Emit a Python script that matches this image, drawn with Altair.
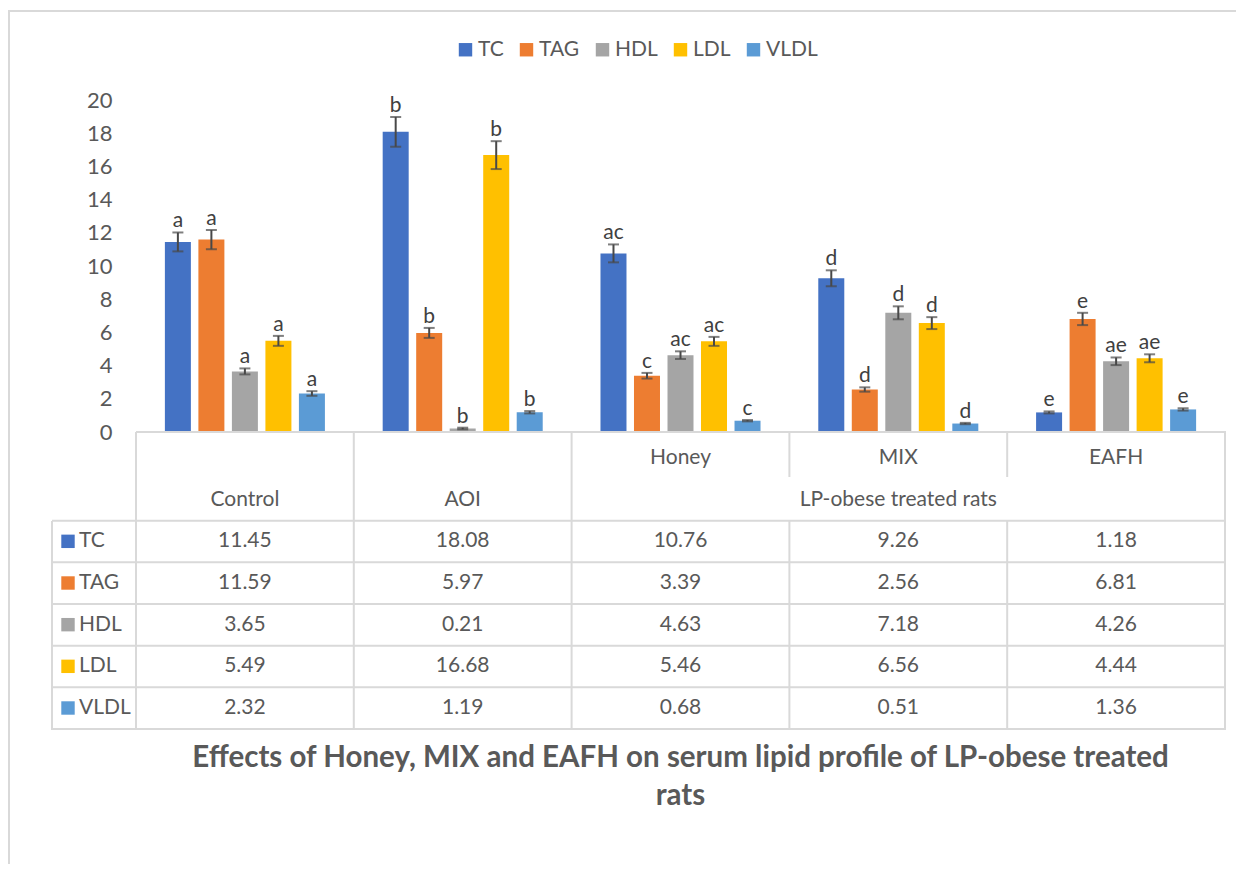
import altair as alt
import pandas as pd

# ---------------- data ----------------
categories = ["Control", "AOI", "Honey", "MIX", "EAFH"]
series = ["TC", "TAG", "HDL", "LDL", "VLDL"]
series_colors = ["#4472C4", "#ED7D31", "#A5A5A5", "#FFC000", "#5B9BD5"]

tc_values = [11.45, 18.08, 10.76, 9.26, 1.18]
tag_values = [11.59, 5.97, 3.39, 2.56, 6.81]
hdl_values = [3.65, 0.21, 4.63, 7.18, 4.26]
ldl_values = [5.49, 16.68, 5.46, 6.56, 4.44]
vldl_values = [2.32, 1.19, 0.68, 0.51, 1.36]

tc_err = [0.57, 0.90, 0.54, 0.48, 0.06]
tag_err = [0.58, 0.30, 0.17, 0.13, 0.37]
hdl_err = [0.18, 0.05, 0.23, 0.39, 0.23]
ldl_err = [0.30, 0.84, 0.27, 0.36, 0.24]
vldl_err = [0.14, 0.07, 0.04, 0.04, 0.07]

tc_letters = ["a", "b", "ac", "d", "e"]
tag_letters = ["a", "b", "c", "d", "e"]
hdl_letters = ["a", "b", "ac", "d", "ae"]
ldl_letters = ["a", "b", "ac", "d", "ae"]
vldl_letters = ["a", "b", "c", "d", "e"]

sub_labels = ["Honey", "MIX", "EAFH"]
group_labels = ["Control", "AOI", "LP-obese treated rats"]
group_anchor = ["Control", "AOI", "MIX"]
y_ticks = [0, 2, 4, 6, 8, 10, 12, 14, 16, 18, 20]
title_lines = ["Effects of Honey, MIX and EAFH on serum lipid profile of LP-obese treated", "rats"]

values = dict(zip(series, [tc_values, tag_values, hdl_values, ldl_values, vldl_values]))
errors = dict(zip(series, [tc_err, tag_err, hdl_err, ldl_err, vldl_err]))
letters = dict(zip(series, [tc_letters, tag_letters, hdl_letters, ldl_letters, vldl_letters]))

rows = []
for s in series:
    for i, c in enumerate(categories):
        v = values[s][i]
        e = errors[s][i]
        rows.append(dict(cat=c, series=s, value=v, lo=v - e, hi=v + e,
                         sig=letters[s][i], label=f"{v:.2f}"))
df = pd.DataFrame(rows)

header_df = pd.DataFrame(
    [dict(cat=c, row="h1", text=c) for c in sub_labels]
    + [dict(cat=a, row="h2", text=t) for a, t in zip(group_anchor, group_labels)]
)
keys_df = pd.DataFrame({"series": series})
hline_df = pd.DataFrame({"row": ["h2"] + series})
one = pd.DataFrame({"k": [0]})
cat_df = pd.DataFrame({"cat": categories})

# ---------------- style ----------------
FONT = "Lato"
TXT = "#595959"
LINE = "#D9D9D9"
ERR = "#484848"

xscale = alt.Scale(domain=categories, paddingInner=0, paddingOuter=0)
x_enc = alt.X("cat:N", scale=xscale, axis=None)
xoff = alt.XOffset("series:N", scale=alt.Scale(domain=series, paddingInner=0.224, paddingOuter=0.862))
color_enc = alt.Color(
    "series:N",
    scale=alt.Scale(domain=series, range=series_colors),
    legend=alt.Legend(
        orient="none", legendX=319, legendY=-61, direction="horizontal", title=None,
        symbolType="square", symbolSize=180, symbolStrokeWidth=0,
        labelFontSize=21, labelColor=TXT, labelFont=FONT,
        columnPadding=12, labelOffset=2, padding=0,
    ),
)
yq = alt.Scale(domain=[0, 20], nice=False, zero=True)
y_axis = alt.Axis(values=y_ticks, tickCount=11, grid=False, domain=False, ticks=False,
                  labelOverlap=False, labelPadding=24, labelFontSize=22,
                  labelColor=TXT, labelFont=FONT, title=None)
ty = alt.Scale(type="point", domain=["h1", "h2"] + series, range=[358, 608], padding=0)

# ---------------- bars + error bars ----------------
bars = alt.Chart(df).mark_bar().encode(
    x=x_enc, xOffset=xoff,
    y=alt.Y("value:Q", scale=yq, axis=y_axis),
    color=color_enc,
)
whisk = alt.Chart(df).mark_rule(color=ERR, strokeWidth=2).encode(
    x=x_enc, xOffset=xoff, y=alt.Y("lo:Q", scale=yq, axis=y_axis), y2="hi:Q"
)
cap_hi = alt.Chart(df).mark_tick(color=ERR, thickness=2, size=11, orient="horizontal").encode(
    x=x_enc, xOffset=xoff, y=alt.Y("hi:Q", scale=yq, axis=y_axis)
)
cap_lo = alt.Chart(df).mark_tick(color=ERR, thickness=2, size=11, orient="horizontal").encode(
    x=x_enc, xOffset=xoff, y=alt.Y("lo:Q", scale=yq, axis=y_axis)
)
sig = alt.Chart(df).mark_text(font=FONT, fontSize=21, color="#404040", baseline="alphabetic", dy=-5).encode(
    x=x_enc, xOffset=xoff, y=alt.Y("hi:Q", scale=yq, axis=y_axis), text="sig:N"
)
baseline = alt.Chart(one).mark_rule(color=LINE, strokeWidth=2).encode(
    x=alt.value(0), x2=alt.value(1090), y=alt.datum(0, scale=yq, axis=y_axis)
)
bar_group = alt.layer(bars, whisk, cap_hi, cap_lo, sig, baseline)

# ---------------- data table ----------------
cell_text = alt.Chart(df).mark_text(font=FONT, fontSize=21, color=TXT).encode(
    x=x_enc, y=alt.Y("series:N", scale=ty, axis=None), text="label:N"
)
headers = alt.Chart(header_df).mark_text(font=FONT, fontSize=21, color=TXT).encode(
    x=x_enc, y=alt.Y("row:N", scale=ty, axis=None), text="text:N"
)
key_sq = alt.Chart(keys_df).mark_square(size=180, opacity=1).encode(
    x=alt.value(-68), y=alt.Y("series:N", scale=ty, axis=None), color=color_enc
)
key_txt = alt.Chart(keys_df).mark_text(font=FONT, fontSize=21, color=TXT, align="left").encode(
    x=alt.value(-57), y=alt.Y("series:N", scale=ty, axis=None), text="series:N"
)
hlines = alt.Chart(hline_df).mark_rule(color=LINE, strokeWidth=2, yOffset=21).encode(
    x=alt.value(-84), x2=alt.value(1090), y=alt.Y("row:N", scale=ty, axis=None)
)
table_group = alt.layer(hlines, cell_text, headers, key_sq, key_txt)

# vertical table lines (at category band edges)
def vrule(cats, y1, y2, pos=0):
    return alt.Chart(cat_df).transform_filter(
        alt.FieldOneOfPredicate(field="cat", oneOf=cats)
    ).mark_rule(color=LINE, strokeWidth=2).encode(
        x=alt.X("cat:N", bandPosition=pos, scale=xscale, axis=None),
        y=alt.value(y1), y2=alt.value(y2),
    )

v_full = vrule(["Control", "AOI", "Honey"], 332, 630)
v_top = vrule(["MIX", "EAFH"], 332, 377)
v_bot = vrule(["MIX", "EAFH"], 421, 630)
v_right = vrule(["EAFH"], 332, 630, pos=1)
v_left = alt.Chart(one).mark_rule(color=LINE, strokeWidth=2).encode(
    x=alt.value(-84), y=alt.value(421), y2=alt.value(630)
)

# chart-area frame and title
frame_left = alt.Chart(one).mark_rule(color=LINE, strokeWidth=2).encode(
    x=alt.value(-127), y=alt.value(-89), y2=alt.value(770)
)
frame_top = alt.Chart(one).mark_rule(color=LINE, strokeWidth=2).encode(
    x=alt.value(-128), x2=alt.value(1100), y=alt.value(-89)
)
title = alt.Chart(one).mark_text(
    text=title_lines, font=FONT, fontSize=29.5, fontWeight="bold", color=TXT,
    lineHeight=38, align="center", baseline="alphabetic",
).encode(x=alt.value(544.5), y=alt.value(667))

chart = alt.layer(
    frame_left, frame_top, v_full, v_top, v_bot, v_right, v_left,
    table_group, bar_group, title,
).resolve_scale(y="independent").properties(
    width=1089, height=332,
    autosize=alt.AutoSizeParams(type="none"),
    padding={"left": 128, "top": 92, "right": 11, "bottom": 432},
).configure(background="white").configure_view(stroke=None)

chart.save("out.html", embed_options={"renderer": "svg", "actions": False})
